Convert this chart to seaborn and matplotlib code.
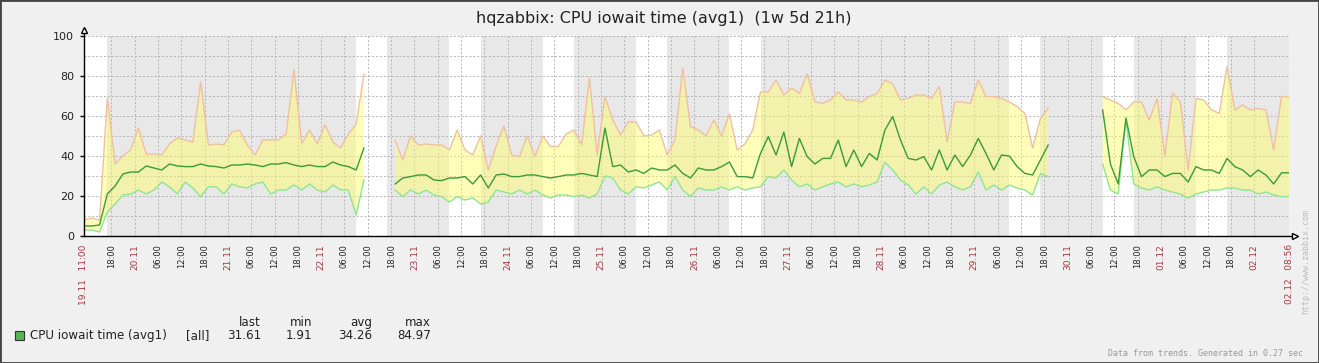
import numpy as np
import pandas as pd
import matplotlib
matplotlib.use("Agg")
import matplotlib.pyplot as plt
import matplotlib.dates as mdates
from matplotlib.patches import Rectangle
from matplotlib.transforms import ScaledTranslation
import seaborn as sns

nan = np.nan

# zabbix trend data, one sample every 2 hours from 19.11 11:00
start = pd.Timestamp("2010-11-19 11:00")
end = pd.Timestamp("2010-12-02 08:56")

vmax = [8, 9, 8, 69, 36, 40, 43, 54, 41, 41, 40.5, 46, 49, 48, 47, 77, 45.5, 46, 45.5, 52,
        53, 45.5, 40.5, 48, 48, 48, 51, 83, 46, 53, 46, 55.5, 47, 44, 51, 56, 81, nan, nan, nan,
        48, 38, 50, 45.5, 46, 45.5, 45.5, 43, 53, 43, 40.5, 50,
        33, 45, 55, 40.5, 39.7, 50, 39.7, 50, 44.7, 44.7, 51, 53, 45.5, 79, 40.5, 69.7, 58, 50.5,
        57, 57, 50, 50.5, 53, 40.5, 48, 84, 54.7, 53, 50, 58, 50, 61, 43, 46, 53, 72, 72, 78,
        70.5, 74, 71.3, 81, 67, 66.3, 68, 72, 68, 68, 67, 69.7, 71.3,
        78, 76, 68, 68.8, 70.5, 70.5, 68.8, 74.7, 47, 67, 67, 66.3, 78, 69.7, 69.7, 68.8, 67,
        64.7, 61.3, 44, 58.8, 63.8, nan, nan, nan, nan, nan, nan,
        69.7, 68, 66.3, 63, 67, 67, 58, 68.8, 40, 71.3, 67, 33, 68.8, 68, 63, 61.3, 84.7, 63,
        65.5, 63, 63.8, 63, 43, 69.7, 69.7]

vavg = [5, 5, 5.5, 21, 25, 31, 32, 32, 35, 34, 33, 36, 35, 34.7, 34.7, 36, 35, 34.7, 34, 35.5,
        35.5, 36, 35.5, 34.7, 36, 36, 36.7, 35.5, 34.7, 35.5, 34.7, 34.7, 37, 35.5, 34.7, 33, 44,
        nan, nan, nan,
        26, 29, 29.7, 30.5, 30.5, 28, 27.7, 29, 29, 29.7, 26, 30.5,
        24, 30.5, 31, 29.7, 29.7, 30.5, 30.5, 29.7, 29, 29.7, 30.5, 30.5, 31.3, 30.5, 29.7, 54,
        34.7, 35.5, 32, 33, 31.3, 34, 33, 33, 35.5, 31.3, 29, 34, 33, 33, 34.7, 37, 29.7, 29.7,
        29, 41.3, 49.7, 40.5, 52, 34.7, 48.8, 39.7, 36, 38.8, 38.8, 48, 34.7, 43, 34.7, 41.3, 38,
        53, 59.7, 48, 38.8, 38, 39.7, 33, 43, 33, 40.5, 34.7, 40.5, 48.8, 41.3, 33, 40.5, 40,
        34.7, 31.3, 30.5, 38, 45.5, nan, nan, nan, nan, nan, nan,
        63, 36, 26, 59, 39.7, 29.7, 33, 33, 29.7, 31.3, 31.3, 27, 34.7, 33, 33, 31.3, 38.8,
        34.7, 33, 29.7, 33, 30.5, 26, 31.6, 31.6]

vmin = [3, 3, 2, 12, 16, 20.5, 21, 23, 21, 23, 27, 24.6, 21, 27, 24, 19.7, 24.6, 24.6, 21, 26,
        24.6, 24, 26, 27, 21, 23, 23, 25.5, 23, 26, 23, 22, 25.5, 23, 23, 10.5, 28, nan, nan, nan,
        23, 19.7, 23, 21, 23, 20.5, 19.7, 17, 19.7, 18, 19, 16,
        17, 23, 22, 21, 23, 21, 23, 20.5, 19, 20.5, 20.5, 19.7, 20.5, 19, 21, 30, 29, 23, 21,
        24.6, 24, 25.5, 27, 23, 29.7, 23, 19.7, 24, 23, 23, 24.6, 23, 24.6, 23, 24, 24.6, 29.7,
        29, 33, 28, 24.6, 26, 23, 24.6, 26, 27, 24.6, 26, 24.6, 25.5, 27,
        37, 33, 28, 25.5, 21, 24.6, 21, 25.5, 27, 24.6, 23, 24.6, 32, 23, 25.5, 23, 25.5, 24,
        23, 20.5, 31.3, 29.7, nan, nan, nan, nan, nan, nan,
        36, 23, 21, 58, 26, 24, 23, 24.6, 23, 22, 21, 19, 21, 22, 23, 23, 24, 24, 23, 23, 21,
        22, 20.5, 19.7, 19.7]

legend_name = "CPU iowait time (avg1)"
legend_func = "[all]"
legend_cols = ["last", "min", "avg", "max"]
legend_vals = ["31.61", "1.91", "34.26", "84.97"]

work_start, work_end = 9, 17

bg = "#f0f0f0"
nonwork = "#e8e8e8"
date_red = "#a03a3a"

times = pd.date_range(start, periods=len(vavg), freq="2h")
df = pd.DataFrame({"time": times, "max": vmax, "avg": vavg, "min": vmin})
df["seg"] = df["avg"].isna().cumsum()
ok = df.dropna()

fig = plt.figure(figsize=(13.19, 3.63), dpi=100, facecolor=bg)
ax = fig.add_axes([84 / 1319, 1 - 236 / 363, 1205 / 1319, 200 / 363])
ax.set_facecolor(nonwork)

# working time white
for d in pd.date_range(start.normalize(), end.normalize(), freq="D"):
    if d.weekday() < 5:
        ax.axvspan(d + pd.Timedelta(hours=work_start), d + pd.Timedelta(hours=work_end),
                   color="white", lw=0, zorder=0)

ax.fill_between(df["time"], df["min"], df["max"], color="#ffff66", alpha=0.45, lw=0, zorder=2)
sns.lineplot(data=ok, x="time", y="max", units="seg", estimator=None, color="#f0c0a0",
             lw=1, ax=ax, legend=False, zorder=3)
sns.lineplot(data=ok, x="time", y="min", units="seg", estimator=None, color="#8ee68e",
             lw=1, ax=ax, legend=False, zorder=3)
sns.lineplot(data=ok, x="time", y="avg", units="seg", estimator=None, color="#3a9a3a",
             lw=1, ax=ax, legend=False, zorder=4)

ax.set_xlim(mdates.date2num(start), mdates.date2num(end))
ax.set_ylim(0, 100)
ax.set_xlabel("")
ax.set_ylabel("")

# x ticks every 6 hours, dates in red
ticks = [start] + list(pd.date_range("2010-11-19 18:00", "2010-12-02 00:00", freq="6h")) + [end]
labels = []
for t in ticks:
    if t == start or t == end:
        labels.append(t.strftime("%d.%m   %H:%M"))
    elif t.hour == 0:
        labels.append(t.strftime("%d.%m"))
    else:
        labels.append(t.strftime("%H:%M"))
ax.set_xticks([mdates.date2num(t) for t in ticks])
ax.set_xticklabels(labels, rotation=90, fontsize=6, va="top", ha="center")
shift = ScaledTranslation(7 / 100, 0, fig.dpi_scale_trans)
for t, lbl in zip(ticks, ax.get_xticklabels()):
    lbl.set_transform(lbl.get_transform() + shift)
    if t == start or t == end or t.hour == 0:
        lbl.set_color(date_red)
        lbl.set_fontsize(6.5)
    else:
        lbl.set_color("#222222")
ax.tick_params(axis="x", length=0, pad=6)

ax.set_yticks(range(0, 101, 20))
ax.set_yticks(range(10, 100, 20), minor=True)
ax.tick_params(axis="y", which="major", length=3, width=1, pad=4, labelsize=8, labelcolor="#222222")
ax.tick_params(axis="y", which="minor", length=0)

ax.grid(True, which="both", color="#b4b4b4", lw=0.7, ls=(0, (2, 2)), zorder=1)
ax.set_axisbelow(True)
for s in ["top", "right", "left", "bottom"]:
    ax.spines[s].set_visible(False)

# axis lines with zabbix style arrows
ax.plot([0, 0], [0, 1.035], color="black", lw=1, transform=ax.transAxes, clip_on=False, zorder=6)
ax.plot([0, 1.004], [0, 0], color="black", lw=1, transform=ax.transAxes, clip_on=False, zorder=6)
ax.plot([0], [1.03], marker="^", ms=5, mfc="white", mec="black", mew=1,
        transform=ax.transAxes, clip_on=False, zorder=7)
ax.plot([1.005], [0], marker=">", ms=5, mfc="white", mec="black", mew=1,
        transform=ax.transAxes, clip_on=False, zorder=7)

W, H = 1319, 363
fig.text(664 / W, 1 - 18 / H, "hqzabbix: CPU iowait time (avg1)  (1w 5d 21h)",
         ha="center", va="center", fontsize=11.5, color="#222222")

# legend
fig.patches.append(Rectangle((15 / W, 1 - 340 / H), 9 / W, 9 / H, transform=fig.transFigure,
                             facecolor="#55b555", edgecolor="#333333", lw=0.8))
fig.text(30 / W, 1 - 339 / H, legend_name, ha="left", va="baseline", fontsize=8.6, color="#222222")
fig.text(209 / W, 1 - 339 / H, legend_func, ha="right", va="baseline", fontsize=8.6, color="#222222")
for x, h, v in zip([261, 312, 372, 431], legend_cols, legend_vals):
    fig.text(x / W, 1 - 326 / H, h, ha="right", va="baseline", fontsize=8.6, color="#222222")
    fig.text(x / W, 1 - 339 / H, v, ha="right", va="baseline", fontsize=8.6, color="#222222")

fig.text(1303 / W, 1 - 354 / H, "Data from trends. Generated in 0.27 sec", ha="right",
         va="center", fontsize=6, family="DejaVu Sans Mono", color="#999999")
fig.text(1306 / W, 1 - 261 / H, "http://www.zabbix.com", rotation=90, ha="center",
         va="center", fontsize=6, family="DejaVu Sans Mono", color="#bbbbbb")

fig.patches.append(Rectangle((0, 0), 1, 1, transform=fig.transFigure, fill=False,
                             edgecolor="#444444", lw=2))

fig.savefig("out.png", dpi=100, facecolor=bg)
